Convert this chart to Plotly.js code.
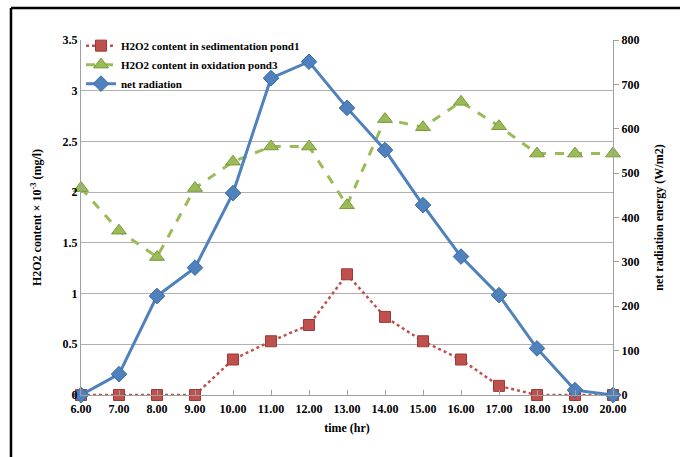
<!DOCTYPE html>
<html>
<head>
<meta charset="utf-8">
<script src="https://cdn.plot.ly/plotly-3.0.1.min.js"></script>
<style>
html,body{margin:0;padding:0;background:#fff;}
#chart{width:680px;height:457px;}
</style>
</head>
<body>
<div id="chart"></div>
<script>
const hours = ['6.00','7.00','8.00','9.00','10.00','11.00','12.00','13.00','14.00','15.00','16.00','17.00','18.00','19.00','20.00'];
const pond1 = [0, 0, 0, 0, 0.35, 0.53, 0.69, 1.19, 0.77, 0.53, 0.35, 0.09, 0, 0, 0];
const pond3 = [2.04, 1.62, 1.36, 2.04, 2.30, 2.45, 2.45, 1.87, 2.72, 2.64, 2.89, 2.65, 2.38, 2.38, 2.38];
const radiation = [0, 47, 223, 287, 455, 714, 751, 647, 552, 428, 312, 225, 105, 11, 0];

const nameP1 = 'H2O2 content in sedimentation pond1';
const nameP3 = 'H2O2 content in oxidation pond3';
const nameRad = 'net radiation';

const serif = 'Liberation Serif, Times New Roman, serif';

const traces = [
  {
    x: hours, y: pond1, name: nameP1, type: 'scatter', mode: 'lines+markers', cliponaxis: false,
    line: {color: '#C0504D', width: 2.5, dash: 'dot'},
    marker: {symbol: 'square', size: 11, color: '#C0504D', line: {color: '#9B3A37', width: 1}},
    yaxis: 'y'
  },
  {
    x: hours, y: pond3, name: nameP3, type: 'scatter', mode: 'lines+markers', cliponaxis: false,
    line: {color: '#9BBB59', width: 3, dash: 'dash'},
    marker: {symbol: 'triangle-up', size: 13, color: '#9BBB59', line: {color: '#7A9A3A', width: 1}},
    yaxis: 'y'
  },
  {
    x: hours, y: radiation, name: nameRad, type: 'scatter', mode: 'lines+markers', cliponaxis: false,
    line: {color: '#4F81BD', width: 3},
    marker: {symbol: 'diamond', size: 12, color: '#4F81BD', line: {color: '#3A6AA3', width: 1}},
    yaxis: 'y2'
  }
];

const layout = {
  width: 680, height: 457,
  margin: {l: 81, r: 67, t: 40, b: 62},
  paper_bgcolor: '#fff', plot_bgcolor: '#fff',
  font: {family: serif, size: 12, color: '#000', weight: 'bold'},
  showlegend: true,
  legend: {
    x: 0.0, y: 1.025, xanchor: 'left', yanchor: 'top',
    bgcolor: 'rgba(255,255,255,0)', borderwidth: 0,
    font: {family: serif, size: 11, color: '#000', weight: 'bold'},
    tracegroupgap: 0, itemwidth: 30
  },
  xaxis: {
    type: 'category', range: [0, 14],
    showline: true, linecolor: '#a0a0a0', linewidth: 1,
    ticks: 'inside', ticklen: 5, tickcolor: '#a0a0a0',
    showgrid: false, zeroline: false, ticklabelstandoff: 3,
    tickfont: {family: serif, size: 12, color: '#000', weight: 'bold'},
    title: {text: 'time (hr)', font: {family: serif, size: 12, color: '#000', weight: 'bold'}, standoff: 8}
  },
  yaxis: {
    range: [0, 3.5], dtick: 0.5, tick0: 0,
    showline: true, linecolor: '#a0a0a0', linewidth: 1,
    showgrid: true, gridcolor: '#b0b0b0', gridwidth: 1,
    zeroline: false, ticks: '',
    tickfont: {family: serif, size: 12, color: '#000', weight: 'bold'},
    title: {text: 'H2O2 content × 10<sup>-3</sup> (mg/l)', font: {family: serif, size: 12, color: '#000', weight: 'bold'}, standoff: 18}
  },
  yaxis2: {
    overlaying: 'y', side: 'right', range: [0, 800], dtick: 100, tick0: 0,
    showline: true, linecolor: '#a0a0a0', linewidth: 1,
    showgrid: false, zeroline: false,
    ticks: 'outside', ticklen: 5, tickcolor: '#a0a0a0',
    tickfont: {family: serif, size: 12, color: '#000', weight: 'bold'},
    title: {text: 'net radiation energy (W/m2)', font: {family: serif, size: 12, color: '#000', weight: 'bold'}, standoff: 16}
  },
  shapes: [
    {type: 'line', xref: 'paper', yref: 'paper', x0: -0.1316, x1: -0.1316, y0: -0.2, y1: 1.0901,
     line: {color: '#000', width: 2.5}},
    {type: 'line', xref: 'paper', yref: 'paper', x0: -0.1316, x1: 1.2, y0: 1.0901, y1: 1.0901,
     line: {color: '#000', width: 2.5}}
  ]
};

Plotly.newPlot('chart', traces, layout, {displayModeBar: false, staticPlot: true});
</script>
</body>
</html>
